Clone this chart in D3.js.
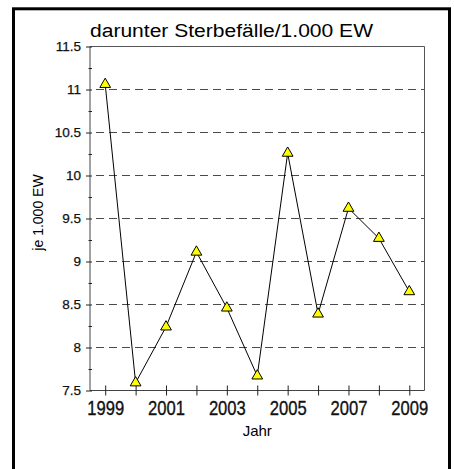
<!DOCTYPE html>
<html>
<head>
<meta charset="utf-8">
<script src="https://cdn.jsdelivr.net/npm/d3@7"></script>
<style>
  body { margin: 0; background: #fff; }
  svg { display: block; }
</style>
</head>
<body>
<svg width="454" height="469"></svg>
<script>
// data
const years = [1999, 2000, 2001, 2002, 2003, 2004, 2005, 2006, 2007, 2008, 2009];
const values = [11.06, 7.59, 8.24, 9.11, 8.46, 7.67, 10.26, 8.39, 9.62, 9.27, 8.65];
const yMajor = [7.5, 8, 8.5, 9, 9.5, 10, 10.5, 11, 11.5];
const yMinor = [7.75, 8.25, 8.75, 9.25, 9.75, 10.25, 10.75, 11.25];
const gridValues = [8, 8.5, 9, 9.5, 10, 10.5, 11];
const xLabelYears = [1999, 2001, 2003, 2005, 2007, 2009];

const title = "darunter Sterbefälle/1.000 EW";
const yTitle = "je 1.000 EW";
const xTitle = "Jahr";

const font = "Liberation Sans, Arial, sans-serif";
const svg = d3.select("svg");

// plot box
const plotLeft = 90, plotRight = 424.5, plotTop = 46.5, plotBottom = 390.5;

const x = d3.scaleLinear().domain([1998.5, 2009.5]).range([plotLeft, plotRight]);
const y = d3.scaleLinear().domain([7.5, 11.5]).range([plotBottom, plotTop]);

// outer black border (runs past the bottom of the picture)
svg.append("rect")
    .attr("x", 13.5).attr("y", 8.8)
    .attr("width", 436).attr("height", 480)
    .attr("fill", "none")
    .attr("stroke", "#000")
    .attr("stroke-width", 3);

// title
svg.append("text")
    .attr("x", 231.5).attr("y", 36.5)
    .attr("text-anchor", "middle")
    .attr("textLength", 283)
    .attr("lengthAdjust", "spacingAndGlyphs")
    .style("font-family", font)
    .style("font-size", "18px")
    .text(title);

// dashed grid
svg.append("g")
    .selectAll("line")
    .data(gridValues)
    .join("line")
    .attr("x1", plotLeft + 6).attr("x2", plotRight)
    .attr("y1", d => y(d)).attr("y2", d => y(d))
    .attr("stroke", "#4a4a4a")
    .attr("stroke-width", 1.2)
    .attr("stroke-dasharray", "8,5");

// frame top + right
svg.append("path")
    .attr("d", `M${plotLeft},${plotTop}H${plotRight}V${plotBottom}`)
    .attr("fill", "none")
    .attr("stroke", "#555")
    .attr("stroke-width", 1);

// x axis
const xAxis = svg.append("g")
    .attr("transform", `translate(0,${plotBottom})`)
    .call(d3.axisBottom(x)
        .tickValues(years)
        .tickSize(5)
        .tickSizeOuter(0)
        .tickFormat(d => xLabelYears.includes(d) ? d : ""));
xAxis.select(".domain").attr("stroke", "#444").attr("d", `M${plotLeft},0H${plotRight}`);
xAxis.selectAll(".tick line").attr("y1", -5).attr("y2", 5).attr("stroke", "#222");
xAxis.selectAll(".tick text")
    .attr("y", 10)
    .attr("transform", "scale(0.83,1)")
    .attr("fill", "#111")
    .attr("stroke", "#111")
    .attr("stroke-width", 0.35)
    .style("font-family", font)
    .style("font-size", "20px");

// y axis, major ticks
const yAxis = svg.append("g")
    .attr("transform", `translate(${plotLeft},0)`)
    .call(d3.axisLeft(y)
        .tickValues(yMajor)
        .tickSizeOuter(0)
        .tickFormat(d => String(d)));
yAxis.select(".domain").attr("stroke", "#444").attr("d", `M0,${plotTop}V${plotBottom}`);
yAxis.selectAll(".tick line").attr("x1", 2).attr("x2", -4).attr("stroke", "#222");
yAxis.selectAll(".tick text")
    .attr("x", -9)
    .attr("fill", "#111")
    .attr("stroke", "#111")
    .attr("stroke-width", 0.25)
    .style("font-family", font)
    .style("font-size", "13.5px");

// y axis, minor ticks
const yMinorAxis = svg.append("g")
    .attr("transform", `translate(${plotLeft},0)`)
    .call(d3.axisLeft(y).tickValues(yMinor).tickFormat(""));
yMinorAxis.select(".domain").remove();
yMinorAxis.selectAll(".tick line").attr("x1", 2).attr("x2", -1.5).attr("stroke", "#222");

// axis titles
svg.append("text")
    .attr("transform", `translate(43,212.5) rotate(-90)`)
    .attr("text-anchor", "middle")
    .style("font-family", font)
    .style("font-size", "14px")
    .text(yTitle);

svg.append("text")
    .attr("x", (plotLeft + plotRight) / 2).attr("y", 436)
    .attr("text-anchor", "middle")
    .style("font-family", font)
    .style("font-size", "15px")
    .text(xTitle);

// line
const line = d3.line()
    .x((d, i) => x(years[i]))
    .y(d => y(d));

svg.append("path")
    .datum(values)
    .attr("d", line)
    .attr("fill", "none")
    .attr("stroke", "#000")
    .attr("stroke-width", 1);

// triangle markers
svg.append("g")
    .selectAll("path")
    .data(values)
    .join("path")
    .attr("transform", (d, i) => `translate(${x(years[i])},${y(d)})`)
    .attr("d", d3.symbol(d3.symbolTriangle, 50))
    .attr("fill", "#ffff00")
    .attr("stroke", "#000")
    .attr("stroke-width", 1);
</script>
</body>
</html>
